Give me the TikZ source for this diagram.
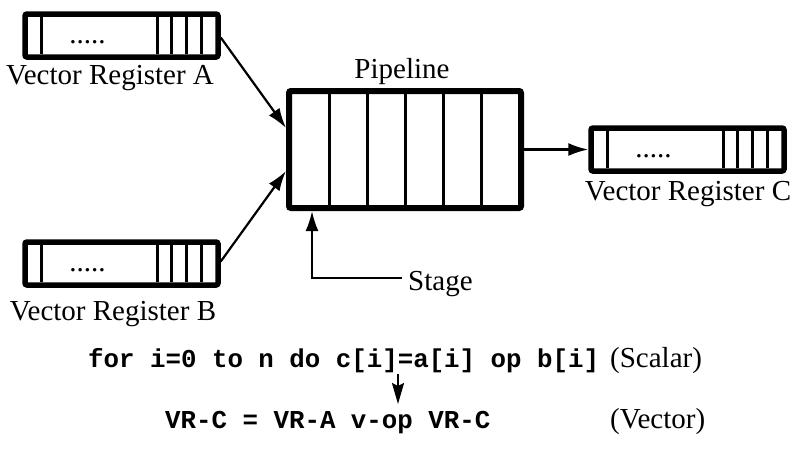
\documentclass[tikz,border=0pt]{standalone}
\usepackage{fontspec}
\setmainfont{Liberation Serif}
\setmonofont{Liberation Mono}
\usetikzlibrary{arrows.meta}
\begin{document}
\begin{tikzpicture}[x=1pt,y=-1pt,
  regbox/.style={draw, line width=5.5pt, rounded corners=2pt, minimum width=193pt, minimum height=43pt, inner sep=0pt},
  pipebox/.style={draw, line width=6pt, rounded corners=2pt, minimum width=232pt, minimum height=117pt, inner sep=0pt},
  cellline/.style={line width=3pt},
  conn/.style={line width=2.2pt, -{Latex[length=20pt,width=13pt]}},
  lbl/.style={font=\fontsize{29}{31}\selectfont, inner sep=0pt, anchor=base},
  codetxt/.style={font=\fontsize{25.8}{28}\selectfont\ttfamily\bfseries, inner sep=0pt, anchor=base west},
  vreg/.pic={
    \node[regbox] (-box) at (0,0) {};
    \foreach \dx in {-79.8,35.5,49.5,64.5,79.5}
      \draw[cellline] (\dx,-18.75) -- (\dx,18.75);
    \node[lbl] (-dots) at (-34,8) {.....};
  }
]
\useasboundingbox (0,0) rectangle (793,451);

% registers
\pic (regA) at (121.5,35.5) {vreg};
\pic (regB) at (121.5,263.5) {vreg};
\pic (regC) at (687.5,149.5) {vreg};
\node[lbl] (labA) at (110,84) {Vector Register A};
\node[lbl] (labB) at (113,320) {Vector Register B};
\node[lbl] (labC) at (688,200) {Vector Register C};

% pipeline
\node[pipebox] (pipe) at (405,149.5) {};
\foreach \dx in {-76,-38,0,38,76}
  \draw[cellline] ([xshift=\dx pt]pipe.north) -- ([xshift=\dx pt]pipe.south);
\node[lbl] (pipelbl) at (402,78) {Pipeline};

% connectors
\draw[conn] ([yshift=-2pt]regA-box.east) -- ([yshift=21.5pt]pipe.west);
\draw[conn] ([yshift=2pt]regB-box.east) -- ([yshift=-21.5pt]pipe.west);
\draw[conn] (pipe.east) -- (regC-box.west);

% stage
\coordinate (stgend) at (402,278);
\coordinate (stgcorner) at (312,278);
\node[lbl, anchor=base west] (stage) at (408,290) {Stage};
\draw[conn] (stgend) -- (stgcorner) -- (pipe.south -| stgcorner);

% code
\node[codetxt] (scalar) at (88,367) {for i=0 to n do c[i]=a[i] op b[i]};
\node[lbl, anchor=base west] (scalarlbl) at (610,367) {(Scalar)};
\node[codetxt] (vector) at (165,428) {VR-C = VR-A v-op VR-C};
\node[lbl, anchor=base west] (vectorlbl) at (610,428) {(Vector)};
\coordinate (arrtop) at (398,374);
\coordinate (arrbot) at (398,404);
\draw[line width=2.2pt, -{Stealth[length=21pt,width=12pt,inset=3pt]}] (arrtop) -- (arrbot);
\end{tikzpicture}
\end{document}
